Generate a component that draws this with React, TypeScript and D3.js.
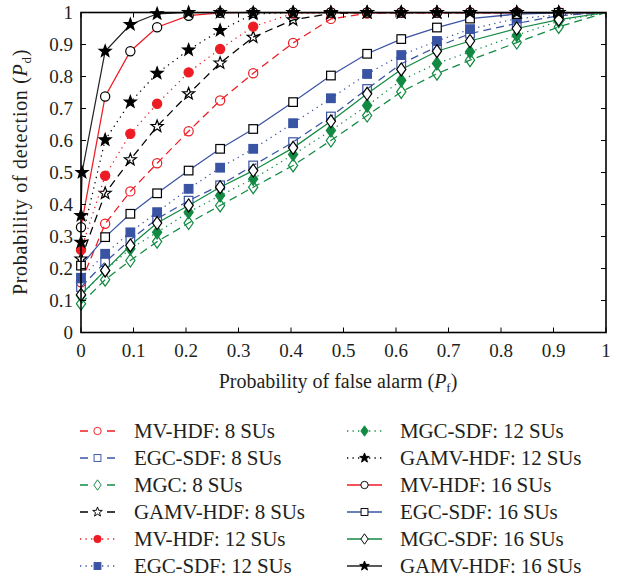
import React from "react";
import * as d3 from "d3";

const pf = [0, 0.046, 0.094, 0.145, 0.205, 0.265, 0.328, 0.404, 0.476, 0.545, 0.61, 0.678, 0.741, 0.83, 0.91, 1];
const pfGamv16 = [0, 0.002, 0.046, 0.094, 0.145, 0.205, 0.265, 0.328, 0.404, 0.476, 0.545, 0.61, 0.678, 0.741, 0.83, 0.91, 1];

const mv8 = [0.157, 0.34, 0.441, 0.529, 0.629, 0.725, 0.81, 0.905, 0.98, 0.997, 1, 1, 1, 1, 1, 1];
const egc8 = [0.142, 0.22, 0.29, 0.355, 0.412, 0.46, 0.522, 0.595, 0.675, 0.761, 0.84, 0.893, 0.934, 0.966, 0.99, 1];
const mgc8 = [0.09, 0.165, 0.225, 0.284, 0.342, 0.397, 0.454, 0.522, 0.6, 0.678, 0.752, 0.809, 0.851, 0.906, 0.955, 1];
const gamv8 = [0.23, 0.435, 0.54, 0.644, 0.746, 0.842, 0.923, 0.977, 0.997, 1, 1, 1, 1, 1, 1, 1];
const mv12 = [0.258, 0.49, 0.621, 0.715, 0.813, 0.886, 0.956, 0.997, 1, 1, 1, 1, 1, 1, 1, 1];
const egc12 = [0.171, 0.246, 0.313, 0.376, 0.449, 0.515, 0.574, 0.654, 0.732, 0.808, 0.867, 0.911, 0.948, 0.981, 0.992, 1];
const mgc12 = [0.116, 0.194, 0.262, 0.313, 0.376, 0.428, 0.48, 0.556, 0.631, 0.709, 0.788, 0.841, 0.877, 0.929, 0.973, 1];
const gamv12 = [0.282, 0.602, 0.72, 0.81, 0.883, 0.944, 0.995, 1, 1, 1, 1, 1, 1, 1, 1, 1];
const mv16 = [0.329, 0.7375, 0.879, 0.954, 0.99, 0.999, 1, 1, 1, 1, 1, 1, 1, 1, 1, 1];
const egc16 = [0.209, 0.298, 0.371, 0.435, 0.506, 0.574, 0.636, 0.72, 0.803, 0.871, 0.917, 0.953, 0.981, 0.995, 0.999, 1];
const mgc16 = [0.118, 0.194, 0.272, 0.342, 0.397, 0.454, 0.506, 0.577, 0.66, 0.746, 0.822, 0.879, 0.911, 0.95, 0.978, 1];
const gamv16 = [0.366, 0.5, 0.879, 0.9625, 0.996, 1, 1, 1, 1, 1, 1, 1, 1, 1, 1, 1, 1];

const ticks = [0, 0.1, 0.2, 0.3, 0.4, 0.5, 0.6, 0.7, 0.8, 0.9, 1];
const tickLabels = ["0", "0.1", "0.2", "0.3", "0.4", "0.5", "0.6", "0.7", "0.8", "0.9", "1"];

const RED = "#ed1c24";
const BLUE = "#3a54a4";
const GREEN = "#138a43";
const BLACK = "#000";

type Marker = "circle" | "square" | "diamond" | "star";
type Style = "dash" | "dot" | "solid";

interface Series {
  label: string;
  xs: number[];
  ys: number[];
  color: string;
  style: Style;
  marker: Marker;
  mStroke: string;
  mFill: string;
}

const series: Series[] = [
  { label: "MV-HDF: 8 SUs", xs: pf, ys: mv8, color: RED, style: "dash", marker: "circle", mStroke: RED, mFill: "none" },
  { label: "EGC-SDF: 8 SUs", xs: pf, ys: egc8, color: BLUE, style: "dash", marker: "square", mStroke: BLUE, mFill: "none" },
  { label: "MGC: 8 SUs", xs: pf, ys: mgc8, color: GREEN, style: "dash", marker: "diamond", mStroke: GREEN, mFill: "none" },
  { label: "GAMV-HDF: 8 SUs", xs: pf, ys: gamv8, color: BLACK, style: "dash", marker: "star", mStroke: BLACK, mFill: "none" },
  { label: "MV-HDF: 12 SUs", xs: pf, ys: mv12, color: RED, style: "dot", marker: "circle", mStroke: RED, mFill: RED },
  { label: "EGC-SDF: 12 SUs", xs: pf, ys: egc12, color: BLUE, style: "dot", marker: "square", mStroke: BLUE, mFill: BLUE },
  { label: "MGC-SDF: 12 SUs", xs: pf, ys: mgc12, color: GREEN, style: "dot", marker: "diamond", mStroke: GREEN, mFill: GREEN },
  { label: "GAMV-HDF: 12 SUs", xs: pf, ys: gamv12, color: BLACK, style: "dot", marker: "star", mStroke: BLACK, mFill: BLACK },
  { label: "MV-HDF: 16 SUs", xs: pf, ys: mv16, color: RED, style: "solid", marker: "circle", mStroke: BLACK, mFill: "#fff" },
  { label: "EGC-SDF: 16 SUs", xs: pf, ys: egc16, color: BLUE, style: "solid", marker: "square", mStroke: BLACK, mFill: "#fff" },
  { label: "MGC-SDF: 16 SUs", xs: pf, ys: mgc16, color: GREEN, style: "solid", marker: "diamond", mStroke: BLACK, mFill: "#fff" },
  { label: "GAMV-HDF: 16 SUs", xs: pfGamv16, ys: gamv16, color: "#222", style: "solid", marker: "star", mStroke: BLACK, mFill: BLACK },
];

const X0 = 81, X1 = 606, Y0 = 332.5, Y1 = 12.5;
const x = d3.scaleLinear().domain([0, 1]).range([X0, X1]);
const y = d3.scaleLinear().domain([0, 1]).range([Y0, Y1]);

const dashFor = (s: Style) => (s === "dash" ? "8,5" : s === "dot" ? "1.3,4.2" : undefined);

const starPath = (() => {
  const pts: string[] = [];
  const R = 6.3, r = 2.6;
  for (let i = 0; i < 10; i++) {
    const a = -Math.PI / 2 + (i * Math.PI) / 5;
    const rr = i % 2 === 0 ? R : r;
    pts.push(`${(rr * Math.cos(a)).toFixed(2)},${(rr * Math.sin(a)).toFixed(2)}`);
  }
  return "M" + pts.join("L") + "Z";
})();

function MarkerShape({ m, cx, cy, stroke, fill, legend }: { m: Marker; cx: number; cy: number; stroke: string; fill: string; legend?: boolean }) {
  const sc = legend ? 0.8 : 1;
  const sw = 1.2;
  const t = `translate(${cx},${cy}) scale(${sc})`;
  if (m === "circle") return <circle transform={t} r={4.6} fill={fill} stroke={stroke} strokeWidth={sw} />;
  if (m === "square") return <rect transform={t} x={-4.3} y={-4.3} width={8.6} height={8.6} fill={fill} stroke={stroke} strokeWidth={sw} />;
  if (m === "diamond") return <path transform={t} d="M0,-6.5L4.6,0L0,6.5L-4.6,0Z" fill={fill} stroke={stroke} strokeWidth={sw} />;
  return <path transform={t} d={starPath} fill={fill} stroke={stroke} strokeWidth={sw} strokeLinejoin="miter" />;
}

const FONT = "'Liberation Serif', 'Times New Roman', serif";

export default function App() {
  const line = d3.line<[number, number]>().x((d) => x(d[0])).y((d) => y(d[1]));
  const legendRows = 6;
  return (
    <svg width={618} height={580} style={{ position: "absolute", left: 0, top: 0, background: "#fff" }} fontFamily={FONT}>
      <rect width={618} height={580} fill="#fff" />
      {series.map((s, i) => {
        const pts = s.xs.map((xv, j) => [xv, s.ys[j]] as [number, number]);
        return (
          <g key={i}>
            <path d={line(pts) || ""} fill="none" stroke={s.color} strokeWidth={1.25} strokeDasharray={dashFor(s.style)} />
            {pts.slice(0, pts.length - 1).map((p, j) => (
              <MarkerShape key={j} m={s.marker} cx={x(p[0])} cy={y(p[1])} stroke={s.mStroke} fill={s.mFill} />
            ))}
          </g>
        );
      })}
      {/* frame */}
      <rect x={X0} y={Y1} width={X1 - X0} height={Y0 - Y1} fill="none" stroke="#000" strokeWidth={1.6} />
      {ticks.map((t, i) => (
        <g key={i}>
          <line x1={x(t)} x2={x(t)} y1={Y0} y2={Y0 - 5} stroke="#000" strokeWidth={1} />
          <line x1={x(t)} x2={x(t)} y1={Y1} y2={Y1 + 5} stroke="#000" strokeWidth={1} />
          <line x1={X0} x2={X0 + 5} y1={y(t)} y2={y(t)} stroke="#000" strokeWidth={1} />
          <line x1={X1} x2={X1 - 5} y1={y(t)} y2={y(t)} stroke="#000" strokeWidth={1} />
          <text x={x(t)} y={357} textAnchor="middle" fontSize={19} fill="#231f20">{tickLabels[i]}</text>
          <text x={73} y={y(t) + 6} textAnchor="end" fontSize={19} fill="#231f20">{tickLabels[i]}</text>
        </g>
      ))}
      <text x={338} y={388} textAnchor="middle" fontSize={20} fill="#231f20">
        Probability of false alarm (<tspan fontStyle="italic">P</tspan><tspan fontSize={13} dy={4}>f</tspan><tspan dy={-4}>)</tspan>
      </text>
      <text transform={`translate(27,172) rotate(-90)`} textAnchor="middle" fontSize={20} letterSpacing={0.7} fill="#231f20">
        Probability of detection (<tspan fontStyle="italic">P</tspan><tspan fontSize={13} dy={4}>d</tspan><tspan dy={-4}>)</tspan>
      </text>
      {/* legend */}
      {series.map((s, i) => {
        const col = Math.floor(i / legendRows);
        const row = i % legendRows;
        const lx0 = col === 0 ? 80 : 347;
        const lx1 = lx0 + 35;
        const tx = col === 0 ? 134 : 400;
        const cy = 431 + row * 27;
        const da = s.style === "dash" ? "8,19,8" : s.style === "dot" ? "1.3,4.2" : undefined;
        return (
          <g key={i}>
            <line x1={lx0} x2={lx1} y1={cy} y2={cy} stroke={s.color} strokeWidth={1.3} strokeDasharray={da} />
            <MarkerShape m={s.marker} cx={(lx0 + lx1) / 2} cy={cy} stroke={s.mStroke} fill={s.mFill} legend />
            <text x={tx} y={cy + 7} fontSize={21} letterSpacing={-0.15} fill="#231f20">{s.label}</text>
          </g>
        );
      })}
    </svg>
  );
}
